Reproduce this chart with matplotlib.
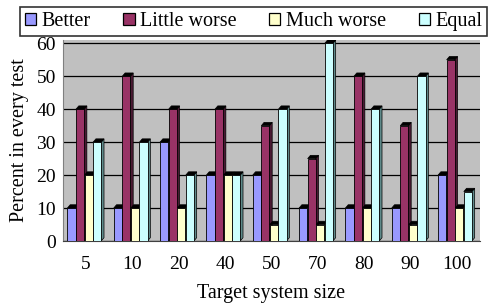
import matplotlib
matplotlib.use("Agg")
import matplotlib.pyplot as plt
from matplotlib.patches import Polygon, Patch
from matplotlib.font_manager import FontProperties
import numpy as np

plt.rcParams['font.family'] = ['Liberation Serif', 'DejaVu Serif']

categories = ["5", "10", "20", "40", "50", "70", "80", "90", "100"]
series_names = ["Better", "Little worse", "Much worse", "Equal"]
better = [10, 10, 30, 20, 20, 10, 10, 10, 20]
little_worse = [40, 50, 40, 40, 35, 25, 50, 35, 55]
much_worse = [20, 10, 10, 20, 5, 5, 10, 5, 10]
equal = [30, 30, 20, 20, 40, 60, 40, 50, 15]
values = [better, little_worse, much_worse, equal]

front_colors = ["#9999FF", "#993366", "#FFFFCC", "#CCFFFF"]
side_colors = ["#4D4D80", "#4A1A33", "#80806A", "#5F8A8A"]

fig = plt.figure(figsize=(4.89, 3.03), dpi=100)
ax = fig.add_axes([63/489, 1-241/303, 417/489, 201/303])
ax.set_facecolor("#C0C0C0")

n = len(categories)
x = np.arange(n)
w = 0.175
d = 0.06
dy = 1.0
offsets = np.array([-1.5, -0.5, 0.5, 1.5]) * (w + 0.01) - 0.04

for yv in range(0, 61, 10):
    ax.axhline(yv, color="black", lw=0.9, zorder=1)

for s, vals in enumerate(values):
    xs = x + offsets[s]
    for xi, h in zip(xs, vals):
        r = xi + w/2
        l = xi - w/2
        side = Polygon([(r, 0), (r + d, dy), (r + d, h + dy), (r, h)],
                       closed=True, facecolor=side_colors[s],
                       edgecolor="black", lw=0.5, zorder=3)
        top = Polygon([(l, h), (l + d, h + dy), (r + d, h + dy), (r, h)],
                      closed=True, facecolor="black", edgecolor="black",
                      lw=0.5, zorder=3)
        ax.add_patch(side)
        ax.add_patch(top)
    ax.bar(xs, vals, width=w, color=front_colors[s], edgecolor="black",
           linewidth=0.6, zorder=3)

ax.set_xlim(-0.5, n - 0.5)
ax.set_ylim(0, 61)
ax.set_yticks(range(0, 61, 10))
ax.set_xticks(x)
ax.set_xticklabels(categories)
ax.tick_params(axis='both', labelsize=14, length=0, pad=5)
ax.tick_params(axis='x', pad=11)
for sp in ["top", "right"]:
    ax.spines[sp].set_visible(False)
ax.spines["left"].set_color("#808080")
ax.spines["bottom"].set_color("#404040")

ax.set_ylabel("Percent in every test", fontsize=14.5, labelpad=5)
ax.set_xlabel("Target system size", fontsize=14.5, labelpad=8)

handles = [Patch(facecolor=c, edgecolor="black", linewidth=0.9) for c in front_colors]
leg = fig.legend(handles, series_names, loc="lower left",
                 bbox_to_anchor=(20/489, 1-36/303, 467/489, 34/303),
                 mode="expand", ncol=4,
                 prop=FontProperties(family="Liberation Serif", size=14.5),
                 frameon=True,
                 fancybox=False, edgecolor="black", borderaxespad=0,
                 handlelength=0.55, handleheight=0.55, handletextpad=0.25,
                 columnspacing=0.6, borderpad=0.25)
for t in leg.get_texts():
    t.set_fontfamily("Liberation Serif")
leg.get_frame().set_linewidth(1.2)

fig.savefig("out.png", dpi=100)
